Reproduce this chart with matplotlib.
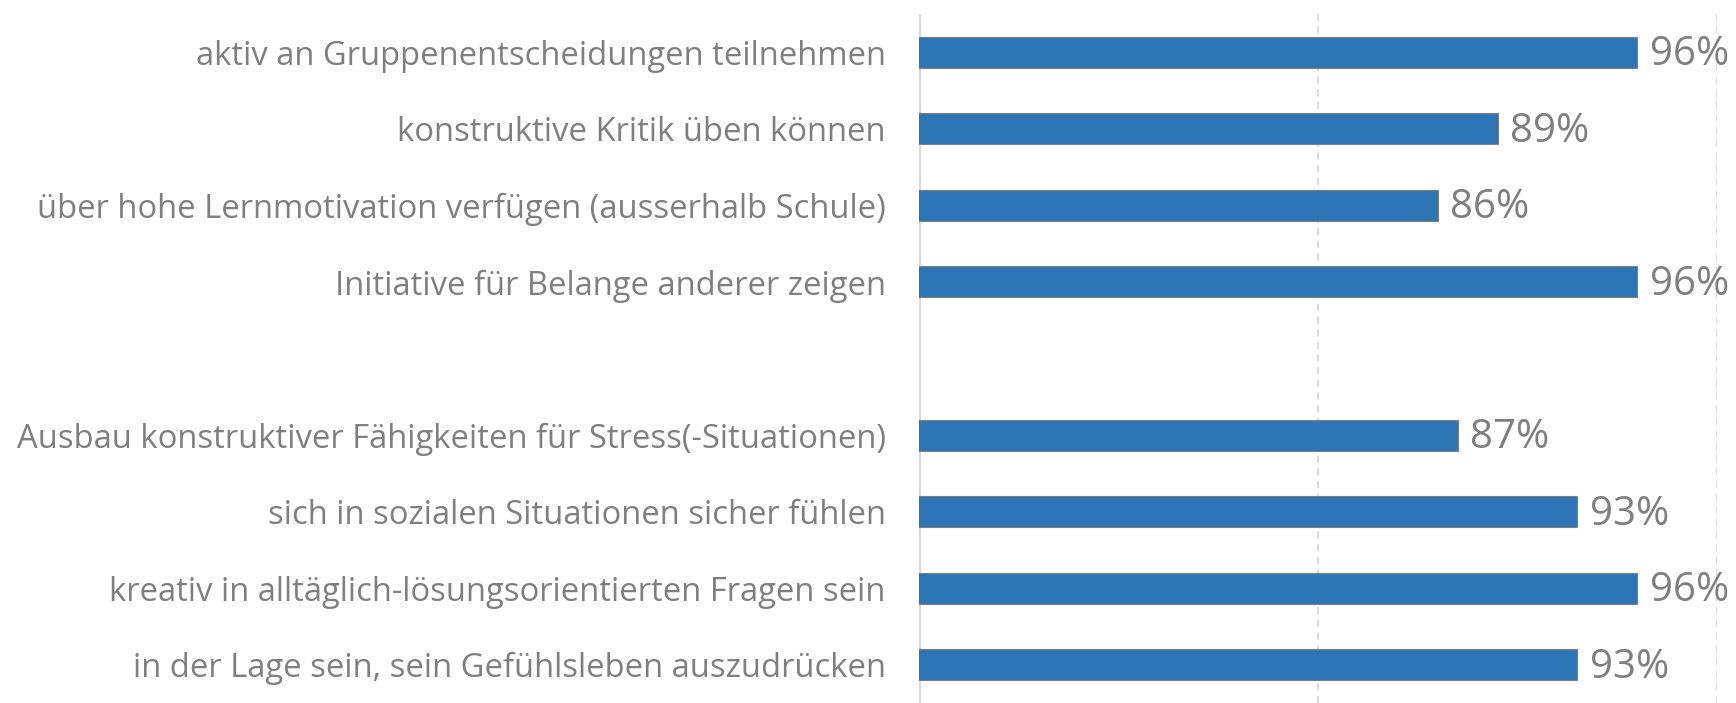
import numpy as np
import matplotlib
matplotlib.use('Agg')
import matplotlib.pyplot as plt


# Items from top to bottom; the empty entry is the gap between the two groups.
labels = [
    'aktiv an Gruppenentscheidungen teilnehmen',
    'konstruktive Kritik üben können',
    'über hohe Lernmotivation verfügen (ausserhalb Schule)',
    'Initiative für Belange anderer zeigen',
    '',
    'Ausbau konstruktiver Fähigkeiten für Stress(-Situationen)',
    'sich in sozialen Situationen sicher fühlen',
    'kreativ in alltäglich-lösungsorientierten Fragen sein',
    'in der Lage sein, sein Gefühlsleben auszudrücken',
]
shares = [96, 89, 86, 96, None, 87, 93, 96, 93]

bar_color = '#2e75b6'
text_color = '#7f7f7f'
grid_color = '#d9d9d9'

plt.rcParams['font.family'] = ['Open Sans', 'DejaVu Sans']


def main():
    fig = plt.figure(figsize=(17.36, 7.03), dpi=100)
    ax = fig.add_axes([0.5294, 0.0, 0.4597, 0.980])

    y = np.arange(len(labels))
    vals = np.array([np.nan if v is None else v / 100 for v in shares])

    ax.barh(y, vals, height=0.405, color=bar_color, edgecolor='#7f7f7f',
            linewidth=0.8, zorder=3)

    for yi, v in zip(y, vals):
        if np.isnan(v):
            continue
        ax.annotate(f'{v * 100:.0f}%', (v, yi), xytext=(9, -2),
                    textcoords='offset points', va='center', ha='left',
                    fontsize=29, color=text_color, annotation_clip=False)

    ax.set_xlim(0.6, 1.0)
    ax.set_ylim(len(labels) - 0.5, -0.5)

    ax.set_yticks(y)
    ax.set_yticklabels(labels, fontsize=23.6, color=text_color)
    ax.tick_params(axis='y', length=0, pad=24)
    ax.set_xticks([0.8, 1.0])
    ax.tick_params(axis='x', length=0, labelbottom=False)

    ax.grid(axis='x', color=grid_color, linestyle=(0, (4, 3)), linewidth=1.3, zorder=0)
    ax.axvline(0.6, color=grid_color, linewidth=2.2, zorder=1)

    for s in ax.spines.values():
        s.set_visible(False)

    fig.savefig('out.png', dpi=100)


if __name__ == "__main__":
    main()
